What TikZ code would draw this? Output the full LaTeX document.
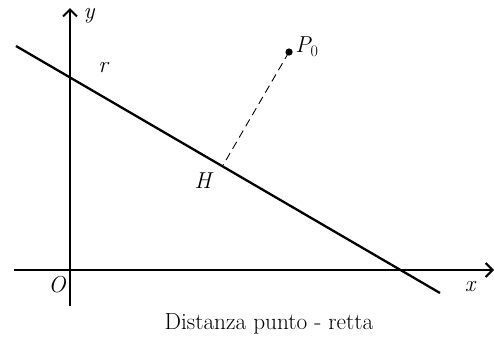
\documentclass[tikz,border=0pt]{standalone}
\usepackage{fontspec}
\usetikzlibrary{arrows.meta,calc}
\begin{document}
\begin{tikzpicture}[x=1pt,y=-1pt,
  axis/.style={line width=2.4pt,-{Straight Barb[length=7pt,width=14pt,line width=2pt]}},
  retta/.style={line width=2.3pt},
  perp/.style={line width=0.9pt,dash pattern=on 8pt off 5pt},
  lbl/.style={font=\fontsize{23}{27}\selectfont\itshape,inner sep=0pt},
  capt/.style={font=\fontsize{23.3}{27}\selectfont,inner sep=0pt}]
\useasboundingbox (0,0) rectangle (494,341);
% axes
\coordinate (xs) at (14,270);
\coordinate (xe) at (494,270);
\coordinate (ys) at (70,306);
\coordinate (ye) at (70,8);
\draw[axis] (xs) -- (xe);
\draw[axis] (ys) -- (ye);
% line r
\coordinate (ra) at (16,46);
\coordinate (rb) at (440,293);
\draw[retta] (ra) -- (rb);
% point and foot
\coordinate (P) at (289,52);
\coordinate (H) at ($(ra)!(P)!(rb)$);
\draw[perp] (P) -- (H);
\fill (P) circle (3.6pt);
% labels
\node[lbl] (Pl) at (307,47) {P\textsubscript{\upshape 0}};
\node[lbl] (Hl) at (203,181) {H};
\node[lbl] (rl) at (103,68) {r};
\node[lbl] (yl) at (89,16) {y};
\node[lbl] (xl) at (470,287) {x};
\node[lbl] (Ol) at (57,285) {O};
\node[capt] (cap) at (269,324) {Distanza punto - retta};
\end{tikzpicture}
\end{document}
